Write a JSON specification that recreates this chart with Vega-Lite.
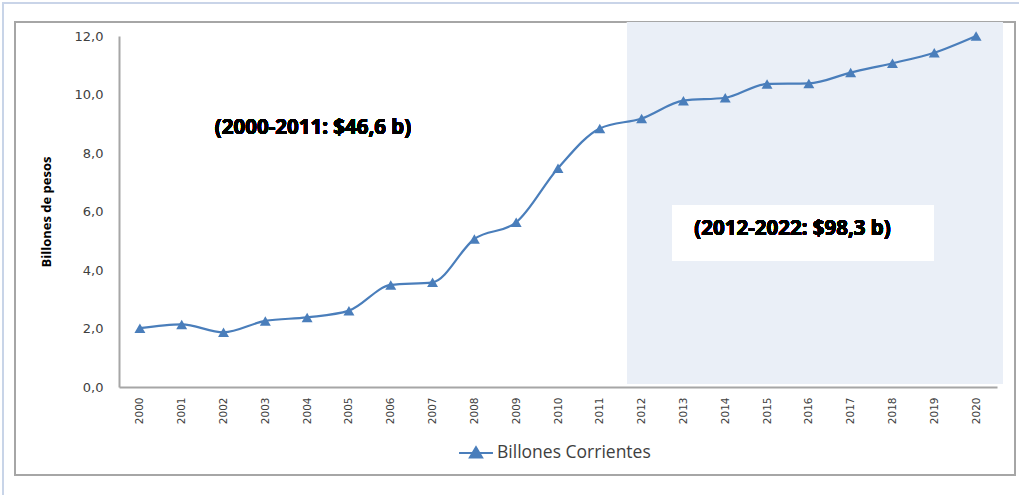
{
  "$schema": "https://vega.github.io/schema/vega-lite/v6.json",
  "autosize": {"type": "none"},
  "padding": {"left": 119, "top": 36, "right": 22, "bottom": 108},
  "width": 878,
  "height": 351,
  "background": "white",
  "config": {"view": {"stroke": null}},
  "datasets": {
    "serie": [
      {"anio": 2000, "valor": 2.01, "serie": "Billones Corrientes"},
      {"anio": 2001, "valor": 2.14, "serie": "Billones Corrientes"},
      {"anio": 2002, "valor": 1.87, "serie": "Billones Corrientes"},
      {"anio": 2003, "valor": 2.26, "serie": "Billones Corrientes"},
      {"anio": 2004, "valor": 2.38, "serie": "Billones Corrientes"},
      {"anio": 2005, "valor": 2.61, "serie": "Billones Corrientes"},
      {"anio": 2006, "valor": 3.49, "serie": "Billones Corrientes"},
      {"anio": 2007, "valor": 3.58, "serie": "Billones Corrientes"},
      {"anio": 2008, "valor": 5.06, "serie": "Billones Corrientes"},
      {"anio": 2009, "valor": 5.63, "serie": "Billones Corrientes"},
      {"anio": 2010, "valor": 7.48, "serie": "Billones Corrientes"},
      {"anio": 2011, "valor": 8.84, "serie": "Billones Corrientes"},
      {"anio": 2012, "valor": 9.18, "serie": "Billones Corrientes"},
      {"anio": 2013, "valor": 9.79, "serie": "Billones Corrientes"},
      {"anio": 2014, "valor": 9.89, "serie": "Billones Corrientes"},
      {"anio": 2015, "valor": 10.36, "serie": "Billones Corrientes"},
      {"anio": 2016, "valor": 10.38, "serie": "Billones Corrientes"},
      {"anio": 2017, "valor": 10.75, "serie": "Billones Corrientes"},
      {"anio": 2018, "valor": 11.07, "serie": "Billones Corrientes"},
      {"anio": 2019, "valor": 11.43, "serie": "Billones Corrientes"},
      {"anio": 2020, "valor": 12.0, "serie": "Billones Corrientes"}
    ]
  },
  "data": {"name": "serie"},
  "layer": [
    {
      "mark": {"type": "rect", "fill": null, "stroke": "#C9D4E8", "strokeWidth": 1.5},
      "encoding": {
        "x": {"datum": 1996.73, "type": "quantitative", "scale": {"domain": [1999.5, 2020.5], "nice": false, "zero": false}},
        "x2": {"datum": 2023.5},
        "y": {"datum": 13.13, "type": "quantitative", "scale": {"domain": [0, 12], "nice": false}},
        "y2": {"datum": -5}
      }
    },
    {
      "mark": {"type": "rect", "fill": null, "stroke": "#A6A6A6", "strokeWidth": 1.2},
      "encoding": {
        "x": {"datum": 1997.01, "type": "quantitative"},
        "x2": {"datum": 2020.93},
        "y": {"datum": 12.48, "type": "quantitative"},
        "y2": {"datum": -3.01}
      }
    },
    {
      "mark": {"type": "rect", "fill": "#EAEFF7"},
      "encoding": {
        "x": {"datum": 2011.65, "type": "quantitative"},
        "x2": {"datum": 2020.64},
        "y": {"datum": 12.48, "type": "quantitative"},
        "y2": {"datum": 0.1}
      }
    },
    {
      "mark": {"type": "rect", "fill": "white"},
      "encoding": {
        "x": {"datum": 2012.73, "type": "quantitative"},
        "x2": {"datum": 2018.99},
        "y": {"datum": 6.22, "type": "quantitative"},
        "y2": {"datum": 4.31}
      }
    },
    {
      "mark": {"type": "text", "font": "Noto Sans", "fontWeight": 700, "fontSize": 20.5, "fill": "#000000", "align": "center", "baseline": "middle"},
      "encoding": {
        "x": {"datum": 2004.14, "type": "quantitative"},
        "y": {"datum": 8.85, "type": "quantitative"},
        "text": {"datum": "(2000-2011: $46,6 b)"}
      }
    },
    {
      "mark": {"type": "text", "font": "Noto Sans", "fontWeight": 700, "fontSize": 20.5, "fill": "#000000", "align": "center", "baseline": "middle"},
      "encoding": {
        "x": {"datum": 2015.61, "type": "quantitative"},
        "y": {"datum": 5.40, "type": "quantitative"},
        "text": {"datum": "(2012-2022: $98,3 b)"}
      }
    },
    {
      "mark": {"type": "line", "interpolate": "monotone", "strokeWidth": 2.2, "point": {"shape": "triangle-up", "size": 120, "filled": true, "opacity": 1}},
      "encoding": {
        "x": {
          "field": "anio", "type": "quantitative",
          "axis": {
            "values": [2000,2001,2002,2003,2004,2005,2006,2007,2008,2009,2010,2011,2012,2013,2014,2015,2016,2017,2018,2019,2020],
            "format": "d", "labelAngle": -90, "ticks": false, "grid": false,
            "domainColor": "#A6A6A6", "domainWidth": 2, "labelPadding": 10,
            "labelFont": "DejaVu Sans", "labelFontSize": 10.5, "labelColor": "#404040",
            "title": null
          }
        },
        "y": {
          "field": "valor", "type": "quantitative",
          "axis": {
            "values": [0, 2, 4, 6, 8, 10, 12], "format": ".1f", "formatType": "number",
            "labelExpr": "replace(datum.label, '.', ',')",
            "ticks": false, "grid": false,
            "domainColor": "#A6A6A6", "domainWidth": 2, "labelPadding": 16,
            "labelFont": "DejaVu Sans", "labelFontSize": 13, "labelColor": "#404040",
            "title": "Billones de pesos", "titleFont": "Open Sans", "titleFontWeight": "bold",
            "titleFontSize": 13, "titleColor": "black", "titlePadding": 21
          }
        },
        "color": {
          "field": "serie", "type": "nominal",
          "scale": {"range": ["#4A7EBB"]},
          "legend": {
            "title": null, "orient": "none", "legendX": 339, "legendY": 399, "padding": 0,
            "symbolType": "M-1,0L1,0M0,-0.34L0.36,0.26L-0.36,0.26Z",
            "symbolSize": 1150, "symbolStrokeWidth": 2,
            "labelFont": "Open Sans", "labelFontSize": 17.5, "labelColor": "#404040", "labelOffset": 3,
            "encode": {"symbols": {"update": {"fill": {"value": "#4A7EBB"}, "stroke": {"value": "#4A7EBB"}, "strokeWidth": {"value": 2}, "opacity": {"value": 1}}}}
          }
        }
      }
    }
  ]
}
